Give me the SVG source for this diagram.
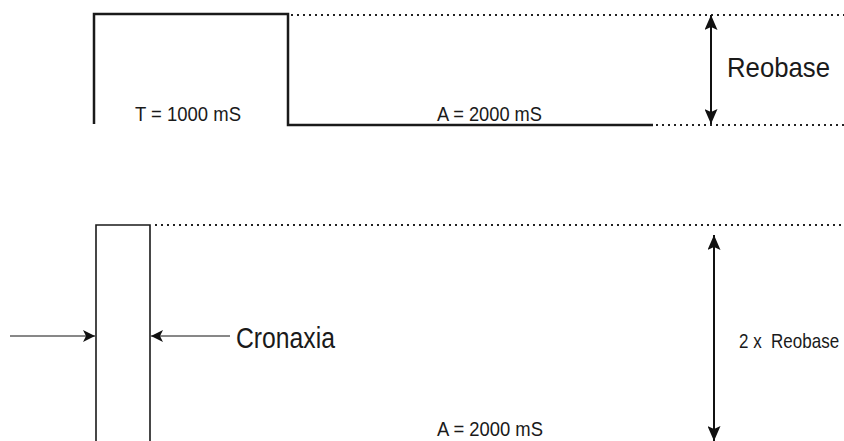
<svg xmlns="http://www.w3.org/2000/svg" width="844" height="441" viewBox="0 0 844 441">
<defs>
<marker id="ah" viewBox="0 0 12 12" refX="12" refY="6" markerWidth="12" markerHeight="12" markerUnits="userSpaceOnUse" orient="auto-start-reverse">
<path d="M0,0 L12,6 L0,12 L3,6 Z" fill="#111"/>
</marker>
<marker id="ahs" viewBox="0 0 15 13" refX="15" refY="6.5" markerWidth="15" markerHeight="13" markerUnits="userSpaceOnUse" orient="auto-start-reverse">
<path d="M0,0 L15,6.5 L0,13 L3,6.5 Z" fill="#111"/>
</marker>
</defs>
<style>
.pulse{fill:none;stroke:#1a1a1a;stroke-linejoin:miter}
.dot{fill:none;stroke:#222;stroke-width:1.8;stroke-dasharray:2 4}
.lbl{font-family:"Liberation Sans",Arial,sans-serif;fill:#1a1a1a}
</style>
<rect width="844" height="441" fill="#fff"/>
<g id="pulse-top">
<path class="pulse" stroke-width="2.5" d="M94,124 V14 H288 V125 H653"/>
<text class="lbl" x="135" y="121" font-size="21" textLength="106" lengthAdjust="spacingAndGlyphs">T = 1000 mS</text>
<text class="lbl" x="437" y="121" font-size="21" textLength="105" lengthAdjust="spacingAndGlyphs">A = 2000 mS</text>
</g>
<g id="pulse-bottom">
<path class="pulse" stroke-width="1.6" d="M96,441 V225 H150 V441"/>
<text class="lbl" x="437" y="436" font-size="20" textLength="106" lengthAdjust="spacingAndGlyphs">A = 2000 mS</text>
</g>
<g id="label-reobase">
<text class="lbl" x="727" y="77" font-size="28" textLength="103" lengthAdjust="spacingAndGlyphs">Reobase</text>
</g>
<g id="label-cronaxia">
<text class="lbl" x="236" y="348" font-size="29" textLength="99" lengthAdjust="spacingAndGlyphs">Cronaxia</text>
</g>
<g id="label-2xreobase">
<text class="lbl" transform="translate(739,348) scale(1,1.2)" x="0" y="0" font-size="17" xml:space="preserve">2 x  Reobase</text>
</g>
<g id="connectors">
<line class="dot" x1="291" y1="15" x2="844" y2="15"/>
<line class="dot" x1="656" y1="125" x2="844" y2="125"/>
<line class="dot" x1="155" y1="225" x2="844" y2="225"/>
<line x1="711" y1="15" x2="711" y2="124" stroke="#111" stroke-width="2" marker-start="url(#ahs)" marker-end="url(#ahs)"/>
<line x1="714" y1="235" x2="714" y2="441" stroke="#111" stroke-width="2" marker-start="url(#ahs)" marker-end="url(#ahs)"/>
<line x1="10" y1="336" x2="95" y2="336" stroke="#111" stroke-width="1" marker-end="url(#ah)"/>
<line x1="230" y1="336" x2="151" y2="336" stroke="#111" stroke-width="1" marker-end="url(#ah)"/>
</g>
</svg>
